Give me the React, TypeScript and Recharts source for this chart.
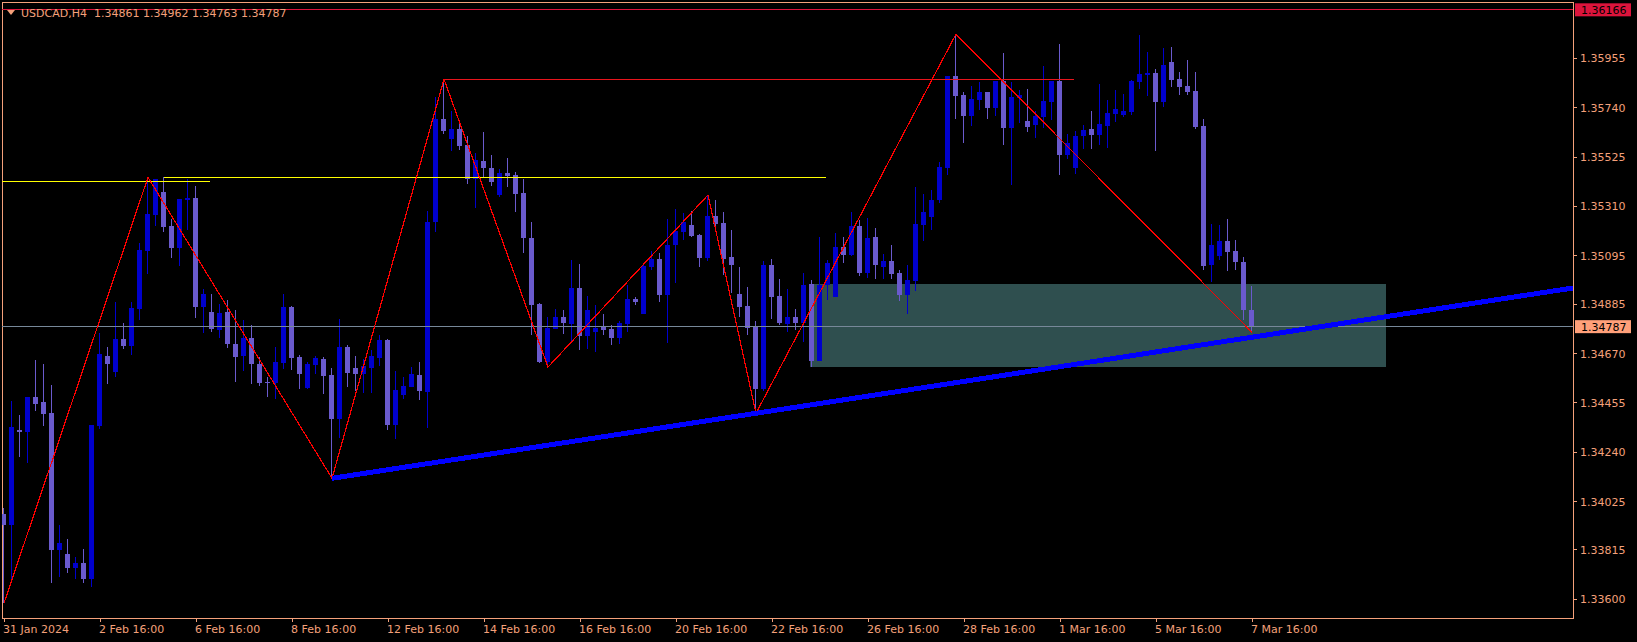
import React from 'react';
import { ComposedChart, Bar, Line, XAxis, YAxis, ReferenceLine, ReferenceArea } from 'recharts';

const opens = [
  1.33972, 1.33924, 1.34336, 1.34330, 1.34481, 1.34459, 1.34411, 1.33815, 1.33797, 1.33736,
  1.33757, 1.33689, 1.34355, 1.34659, 1.34590, 1.34733, 1.34703, 1.34864, 1.35116, 1.35273,
  1.35373, 1.35225, 1.35129, 1.35338, 1.35347, 1.34873, 1.34851, 1.34773, 1.34851, 1.34712,
  1.34659, 1.34739, 1.34625, 1.34546, 1.34542, 1.34629, 1.34873, 1.34655, 1.34520, 1.34620,
  1.34646, 1.34577, 1.34385, 1.34699, 1.34607, 1.34581, 1.34607, 1.34651, 1.34729, 1.34359,
  1.34490, 1.34524, 1.34577, 1.34503, 1.35243, 1.35691, 1.35604, 1.35648, 1.35578, 1.35430,
  1.35508, 1.35478, 1.35360, 1.35456, 1.35447, 1.35369, 1.35173, 1.34886, 1.34633, 1.34777,
  1.34829, 1.34799, 1.34955, 1.34746, 1.34764, 1.34786, 1.34777, 1.34739, 1.34799, 1.34907,
  1.34842, 1.35047, 1.35082, 1.34925, 1.35143, 1.35199, 1.35230, 1.35186, 1.35086, 1.35269,
  1.35238, 1.35090, 1.34929, 1.34877, 1.34786, 1.34516, 1.35055, 1.34921, 1.34799, 1.34829,
  1.34803, 1.34973, 1.34638, 1.34968, 1.34916, 1.35134, 1.35099, 1.35225, 1.35021, 1.35177,
  1.35047, 1.35073, 1.35021, 1.34925, 1.34986, 1.35230, 1.35264, 1.35338, 1.35478, 1.35878,
  1.35796, 1.35704, 1.35774, 1.35809, 1.35739, 1.35856, 1.35652, 1.35782, 1.35682, 1.35665,
  1.35700, 1.35765, 1.35856, 1.35534, 1.35478, 1.35617, 1.35648, 1.35621, 1.35661, 1.35713,
  1.35708, 1.35722, 1.35852, 1.35883, 1.35891, 1.35765, 1.35939, 1.35865, 1.35835, 1.35813,
  1.35661, 1.35055, 1.35095, 1.35160, 1.35116, 1.35069, 1.34861,
];

const highs = [
  1.33998, 1.34465, 1.34403, 1.34481, 1.34642, 1.34625, 1.34533, 1.33924, 1.33863, 1.33784,
  1.33819, 1.34359, 1.34759, 1.34699, 1.34894, 1.34803, 1.34894, 1.35151, 1.35437, 1.35430,
  1.35437, 1.35256, 1.35343, 1.35430, 1.35399, 1.34951, 1.34929, 1.34886, 1.34903, 1.34860,
  1.34816, 1.34794, 1.34655, 1.34568, 1.34699, 1.34929, 1.34877, 1.34664, 1.34633, 1.34659,
  1.34655, 1.34607, 1.34820, 1.34707, 1.34659, 1.34646, 1.34685, 1.34751, 1.34733, 1.34594,
  1.34568, 1.34611, 1.34633, 1.35291, 1.35788, 1.35864, 1.35726, 1.35687, 1.35617, 1.35543,
  1.35634, 1.35534, 1.35473, 1.35521, 1.35460, 1.35430, 1.35243, 1.34890, 1.34829, 1.34864,
  1.34860, 1.35077, 1.35060, 1.34921, 1.34881, 1.34842, 1.34794, 1.34812, 1.34968, 1.34916,
  1.35060, 1.35116, 1.35108, 1.35256, 1.35299, 1.35282, 1.35291, 1.35190, 1.35360, 1.35338,
  1.35286, 1.35208, 1.35047, 1.34960, 1.34812, 1.35073, 1.35082, 1.34995, 1.34951, 1.34864,
  1.35021, 1.34990, 1.35177, 1.35077, 1.35195, 1.35177, 1.35286, 1.35251, 1.35260, 1.35217,
  1.35103, 1.35143, 1.35034, 1.35055, 1.35395, 1.35365, 1.35382, 1.35504, 1.35878, 1.36060,
  1.35809, 1.35835, 1.35852, 1.35809, 1.35856, 1.35978, 1.35852, 1.35817, 1.35822, 1.35726,
  1.35922, 1.35856, 1.36018, 1.35626, 1.35639, 1.35665, 1.35726, 1.35843, 1.35774, 1.35817,
  1.35800, 1.35861, 1.36057, 1.35983, 1.35909, 1.36000, 1.36004, 1.35896, 1.35948, 1.35896,
  1.35691, 1.35234, 1.35230, 1.35256, 1.35164, 1.35090, 1.34962,
];

const lows = [
  1.33584, 1.33684, 1.34221, 1.34192, 1.34421, 1.34355, 1.33673, 1.33696, 1.33715, 1.33689,
  1.33671, 1.33654, 1.34343, 1.34537, 1.34568, 1.34690, 1.34664, 1.34816, 1.35016, 1.35225,
  1.35199, 1.35086, 1.35051, 1.35208, 1.34825, 1.34759, 1.34764, 1.34739, 1.34694, 1.34546,
  1.34594, 1.34537, 1.34529, 1.34481, 1.34472, 1.34603, 1.34598, 1.34516, 1.34516, 1.34581,
  1.34494, 1.34127, 1.34302, 1.34524, 1.34507, 1.34498, 1.34498, 1.34616, 1.34337, 1.34298,
  1.34472, 1.34524, 1.34468, 1.34346, 1.35199, 1.35626, 1.35552, 1.35556, 1.35408, 1.35304,
  1.35439, 1.35399, 1.35351, 1.35395, 1.35286, 1.35108, 1.34751, 1.34629, 1.34611, 1.34777,
  1.34755, 1.34720, 1.34685, 1.34690, 1.34677, 1.34751, 1.34707, 1.34712, 1.34764, 1.34881,
  1.34842, 1.35034, 1.34894, 1.34716, 1.34977, 1.35164, 1.35177, 1.35047, 1.35073, 1.35212,
  1.35012, 1.34934, 1.34829, 1.34751, 1.34410, 1.34507, 1.34820, 1.34794, 1.34764, 1.34773,
  1.34720, 1.34611, 1.34638, 1.34903, 1.34916, 1.35064, 1.35095, 1.35008, 1.34999, 1.34995,
  1.34995, 1.34995, 1.34899, 1.34842, 1.34942, 1.35160, 1.35208, 1.35325, 1.35447, 1.35691,
  1.35587, 1.35661, 1.35730, 1.35691, 1.35704, 1.35578, 1.35404, 1.35674, 1.35634, 1.35608,
  1.35652, 1.35687, 1.35447, 1.35517, 1.35452, 1.35560, 1.35560, 1.35578, 1.35565, 1.35678,
  1.35700, 1.35708, 1.35822, 1.35791, 1.35552, 1.35743, 1.35830, 1.35796, 1.35796, 1.35648,
  1.35034, 1.34981, 1.35077, 1.35029, 1.35034, 1.34816, 1.34763,
];

const closes = [
  1.33924, 1.34352, 1.34330, 1.34481, 1.34450, 1.34407, 1.33815, 1.33845, 1.33736, 1.33757,
  1.33689, 1.34359, 1.34668, 1.34625, 1.34733, 1.34703, 1.34868, 1.35121, 1.35277, 1.35430,
  1.35221, 1.35129, 1.35343, 1.35347, 1.34873, 1.34929, 1.34777, 1.34847, 1.34712, 1.34655,
  1.34739, 1.34625, 1.34542, 1.34543, 1.34633, 1.34873, 1.34651, 1.34581, 1.34625, 1.34651,
  1.34572, 1.34385, 1.34699, 1.34585, 1.34581, 1.34616, 1.34659, 1.34729, 1.34359, 1.34511,
  1.34529, 1.34581, 1.34507, 1.35243, 1.35691, 1.35639, 1.35648, 1.35573, 1.35430, 1.35513,
  1.35478, 1.35417, 1.35456, 1.35443, 1.35365, 1.35173, 1.34881, 1.34633, 1.34781, 1.34829,
  1.34803, 1.34955, 1.34746, 1.34860, 1.34781, 1.34773, 1.34739, 1.34803, 1.34907, 1.34894,
  1.35051, 1.35082, 1.34925, 1.35143, 1.35203, 1.35243, 1.35182, 1.35086, 1.35269, 1.35234,
  1.35082, 1.35055, 1.34873, 1.34781, 1.34516, 1.35055, 1.34916, 1.34803, 1.34829, 1.34803,
  1.34968, 1.34638, 1.34968, 1.35064, 1.35134, 1.35099, 1.35225, 1.35021, 1.35173, 1.35055,
  1.35073, 1.35016, 1.34925, 1.34990, 1.35234, 1.35286, 1.35338, 1.35482, 1.35878, 1.35791,
  1.35704, 1.35778, 1.35809, 1.35739, 1.35856, 1.35652, 1.35787, 1.35796, 1.35656, 1.35704,
  1.35769, 1.35856, 1.35534, 1.35587, 1.35617, 1.35643, 1.35621, 1.35669, 1.35717, 1.35735,
  1.35726, 1.35856, 1.35887, 1.35891, 1.35765, 1.35926, 1.35861, 1.35830, 1.35809, 1.35656,
  1.35051, 1.35143, 1.35160, 1.35112, 1.35069, 1.34860, 1.34787,
];

const xTickIndex = [0, 12, 24, 36, 48, 60, 72, 84, 96, 108, 120, 132, 144, 156];
const xTickLabels = [
  '31 Jan 2024', '2 Feb 16:00', '6 Feb 16:00', '8 Feb 16:00', '12 Feb 16:00', '14 Feb 16:00',
  '16 Feb 16:00', '20 Feb 16:00', '22 Feb 16:00', '26 Feb 16:00', '28 Feb 16:00', '1 Mar 16:00',
  '5 Mar 16:00', '7 Mar 16:00',
];
const yTicks = [1.336, 1.33815, 1.34025, 1.3424, 1.34455, 1.3467, 1.34885, 1.35095, 1.3531, 1.35525, 1.3574, 1.35955];

const zigzagIdx = [0, 18, 41, 55, 68, 88, 94, 119, 156];
const zigzagVal = [1.33584, 1.35437, 1.34127, 1.35864, 1.34611, 1.35360, 1.34410, 1.36060, 1.34763];

const bidPrice = 1.34787;
const topLevel = 1.36166;
const resistanceLevel = 1.35864;
const resistanceSpan = [55, 133.8];
const yellowLevel1 = 1.35420;
const yellowSpan1 = [-0.25, 25.8];
const yellowLevel2 = 1.35437;
const yellowSpan2 = [20, 102.8];
const zoneSpan = [100.75, 172.75];
const zoneLevels = [1.34611, 1.34973];
const trendAnchorIdx = [41, 94];
const trendAnchorVal = [1.34127, 1.34410];

const X_DOMAIN: [number, number] = [-0.25, 196.125];
const Y_DOMAIN: [number, number] = [1.33519, 1.362];

const symbolTitle = 'USDCAD,H4';
const ohlcTitle = '1.34861 1.34962 1.34763 1.34787';

const FG = '#f4a07a';
const FONT = '"DejaVu Sans", Verdana, sans-serif';
const BULL = '#0000cd';
const BEAR = '#6a5acd';

const zzMap: Record<number, number> = {};
zigzagIdx.forEach((k, j) => { zzMap[k] = zigzagVal[j]; });

const data = opens.map((o, i) => ({
  i,
  open: o,
  high: highs[i],
  low: lows[i],
  close: closes[i],
  zz: zzMap[i] !== undefined ? zzMap[i] : null,
}));

const trendSlope = (trendAnchorVal[1] - trendAnchorVal[0]) / (trendAnchorIdx[1] - trendAnchorIdx[0]);
const trendEnd = trendAnchorVal[0] + trendSlope * (X_DOMAIN[1] - trendAnchorIdx[0]);

const Candle = (props: any) => {
  const { x, y, width, height, payload } = props;
  if (!payload || y == null || height == null) return null;
  const top = Math.min(y, y + height);
  const h = Math.abs(height);
  const { open, high, low, close } = payload;
  const span = high - low || 1;
  const yOf = (v: number) => top + ((high - v) / span) * h;
  const cx = Math.floor(x + width / 2);
  const bull = close >= open;
  const color = bull ? BULL : BEAR;
  const bTop = Math.min(yOf(open), yOf(close));
  const bBot = Math.max(yOf(open), yOf(close));
  return (
    <g shapeRendering="crispEdges">
      <rect x={cx} y={top} width={1} height={Math.max(h, 1)} fill={color} />
      <rect x={cx - 2} y={bTop} width={5} height={Math.max(bBot - bTop, 1)} fill={color} />
    </g>
  );
};

const YTick = (props: any) => {
  const { x, y, payload } = props;
  const v = payload.value;
  const label = Number(v).toFixed(5);
  if (Math.abs(v - topLevel) < 1e-9 || Math.abs(v - bidPrice) < 1e-9) {
    const bg = Math.abs(v - topLevel) < 1e-9 ? '#dc143c' : '#ffa07a';
    return (
      <g>
        <rect x={x + 2} y={y - 6.5} width={56} height={13} fill={bg} />
        <text x={x + 8} y={y + 4} fill="#000000" fontSize={11} fontFamily={FONT}>{label}</text>
      </g>
    );
  }
  return (
    <g>
      <line x1={x} x2={x + 4} y1={y} y2={y} stroke={FG} shapeRendering="crispEdges" />
      <text x={x + 7} y={y + 4} fill={FG} fontSize={11} fontFamily={FONT}>{label}</text>
    </g>
  );
};

const XTick = (props: any) => {
  const { x, y, payload } = props;
  const k = xTickIndex.indexOf(payload.value);
  return (
    <g>
      <line x1={x} x2={x} y1={y} y2={y + 4} stroke={FG} shapeRendering="crispEdges" />
      <text x={x - 1} y={y + 15} fill={FG} fontSize={11} fontFamily={FONT} textAnchor="start">
        {k >= 0 ? xTickLabels[k] : ''}
      </text>
    </g>
  );
};

export default function App() {
  return (
    <div style={{ position: 'absolute', left: 0, top: 0, width: 1637, height: 642, background: '#000000', overflow: 'hidden' }}>
      <ComposedChart
        width={1637}
        height={642}
        data={data}
        margin={{ top: 2, left: 2, right: 0, bottom: 0 }}
        style={{ background: '#000000' }}
      >
        <XAxis
          dataKey="i"
          type="number"
          domain={X_DOMAIN}
          allowDataOverflow
          ticks={xTickIndex}
          interval={0}
          height={24}
          tickSize={0}
          tickMargin={0}
          tickLine={false}
          axisLine={{ stroke: FG, shapeRendering: 'crispEdges' }}
          tick={<XTick />}
        />
        <YAxis
          type="number"
          orientation="right"
          domain={Y_DOMAIN}
          allowDataOverflow
          ticks={[...yTicks, topLevel, bidPrice]}
          interval={0}
          width={64}
          tickSize={0}
          tickMargin={0}
          tickLine={false}
          axisLine={{ stroke: FG, shapeRendering: 'crispEdges' }}
          tick={<YTick />}
        />
        <ReferenceArea
          x1={X_DOMAIN[0]}
          x2={X_DOMAIN[1]}
          y1={Y_DOMAIN[0]}
          y2={Y_DOMAIN[1]}
          fill="none"
          stroke={FG}
          strokeWidth={1}
          shapeRendering="crispEdges"
        />
        <ReferenceArea
          x1={zoneSpan[0]}
          x2={zoneSpan[1]}
          y1={zoneLevels[0]}
          y2={zoneLevels[1]}
          fill="#2f4f4f"
          fillOpacity={1}
          stroke="none"
          shapeRendering="crispEdges"
        />
        <ReferenceLine y={topLevel} stroke="#dc143c" strokeWidth={1} shapeRendering="crispEdges" />
        <ReferenceLine
          segment={[{ x: resistanceSpan[0], y: resistanceLevel }, { x: resistanceSpan[1], y: resistanceLevel }]}
          stroke="#e8141c"
          strokeWidth={1}
          shapeRendering="crispEdges"
        />
        <ReferenceLine
          segment={[{ x: yellowSpan1[0], y: yellowLevel1 }, { x: yellowSpan1[1], y: yellowLevel1 }]}
          stroke="#ffff00"
          strokeWidth={1}
          shapeRendering="crispEdges"
        />
        <ReferenceLine
          segment={[{ x: yellowSpan2[0], y: yellowLevel2 }, { x: yellowSpan2[1], y: yellowLevel2 }]}
          stroke="#ffff00"
          strokeWidth={1}
          shapeRendering="crispEdges"
        />
        <ReferenceLine y={bidPrice} stroke="#778899" strokeWidth={1} shapeRendering="crispEdges" />
        <Bar
          dataKey={(d: any) => [d.low, d.high]}
          barSize={5}
          shape={<Candle />}
          isAnimationActive={false}
        />
        <Line
          type="linear"
          dataKey="zz"
          stroke="#ff0000"
          strokeWidth={1.2}
          dot={false}
          activeDot={false}
          connectNulls
          isAnimationActive={false}
          shapeRendering="crispEdges"
        />
        <ReferenceLine
          segment={[{ x: trendAnchorIdx[0], y: trendAnchorVal[0] }, { x: X_DOMAIN[1], y: trendEnd }]}
          stroke="#0000ff"
          strokeWidth={5}
          shapeRendering="crispEdges"
        />
      </ComposedChart>
      <svg width={400} height={22} style={{ position: 'absolute', left: 0, top: 0 }}>
        <polygon points="7,10 15,10 11,15" fill={FG} />
        <text x={21} y={16.5} fill={FG} fontSize={11} fontFamily={FONT} style={{ whiteSpace: 'pre' }}>
          {symbolTitle + '  ' + ohlcTitle}
        </text>
      </svg>
    </div>
  );
}
